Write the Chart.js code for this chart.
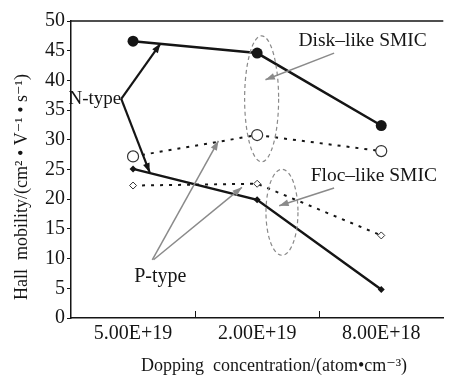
<!DOCTYPE html>
<html>
<head>
<meta charset="utf-8">
<script src="https://cdn.jsdelivr.net/npm/chart.js@4"></script>
<style>
  body { margin: 0; background: #fff; }
  #wrap { width: 450px; height: 383px; }
</style>
</head>
<body>
<div id="wrap"><canvas id="myChart" width="450" height="383"></canvas></div>
<script>
var categories = ["5.00E+19", "2.00E+19", "8.00E+18"];
var diskN = [46.6, 44.6, 32.4];
var diskP = [27.2, 30.8, 28.1];
var flocN = [25.1, 19.9, 4.8];
var flocP = [22.3, 22.6, 13.9];
var yTicks = [0, 5, 10, 15, 20, 25, 30, 35, 40, 45, 50];

var serif = "'Liberation Serif', 'DejaVu Serif', serif";
var ink = "#151515";
var gray = "#8a8a8a";

// annotation stuff, in (category index, value) space
function arrow(ctx, x1, y1, x2, y2, color, size) {
  var a = Math.atan2(y2 - y1, x2 - x1);
  ctx.strokeStyle = color;
  ctx.fillStyle = color;
  ctx.beginPath();
  ctx.moveTo(x1, y1);
  ctx.lineTo(x2, y2);
  ctx.stroke();
  ctx.beginPath();
  ctx.moveTo(x2, y2);
  ctx.lineTo(x2 - size * Math.cos(a - 0.35), y2 - size * Math.sin(a - 0.35));
  ctx.lineTo(x2 - size * Math.cos(a + 0.35), y2 - size * Math.sin(a + 0.35));
  ctx.closePath();
  ctx.fill();
}

var extras = {
  id: "extras",
  afterDraw: function (chart) {
    var ctx = chart.ctx;
    var xs = chart.scales.x;
    var ys = chart.scales.y;
    var area = chart.chartArea;
    function px(i) { return xs.getPixelForValue(0) + i * (xs.getPixelForValue(1) - xs.getPixelForValue(0)); }
    function py(v) { return ys.getPixelForValue(v); }

    ctx.save();
    // top frame line
    ctx.strokeStyle = ink;
    ctx.lineWidth = 1.5;
    ctx.beginPath();
    ctx.moveTo(area.left, area.top);
    ctx.lineTo(area.right, area.top);
    ctx.stroke();

    // x ticks between categories, pointing inward
    ctx.lineWidth = 1;
    for (var k = 0; k < categories.length - 1; k++) {
      var tx = Math.round((xs.getPixelForValue(k) + xs.getPixelForValue(k + 1)) / 2) + 0.5;
      ctx.beginPath();
      ctx.moveTo(tx, area.bottom);
      ctx.lineTo(tx, area.bottom - 7);
      ctx.stroke();
    }

    // N-type label + black arrows
    ctx.font = "19px " + serif;
    ctx.fillStyle = ink;
    ctx.textAlign = "right";
    ctx.textBaseline = "middle";
    ctx.fillText("N-type", px(-0.095), py(36.9));
    ctx.lineWidth = 2.2;
    arrow(ctx, px(-0.095), py(36.9), px(0.221), py(46.2), ink, 10);
    arrow(ctx, px(-0.095), py(36.9), px(0.134), py(24.5), ink, 10);

    // P-type label + gray arrows
    ctx.font = "20px " + serif;
    ctx.textAlign = "center";
    ctx.fillText("P-type", px(0.22), py(7.0));
    ctx.lineWidth = 1.5;
    arrow(ctx, px(0.155), py(9.8), px(0.688), py(29.8), gray, 10);
    arrow(ctx, px(0.165), py(9.8), px(0.877), py(22.0), gray, 10);

    // dashed ellipses
    ctx.setLineDash([4, 3]);
    ctx.strokeStyle = gray;
    ctx.lineWidth = 1.2;
    ctx.beginPath();
    ctx.ellipse(px(1.036), py(36.9), 17, 63, 0, 0, Math.PI * 2);
    ctx.stroke();
    ctx.beginPath();
    ctx.ellipse(px(1.2), py(17.8), 16, 43, 0, 0, Math.PI * 2);
    ctx.stroke();
    ctx.setLineDash([]);

    // SMIC labels
    ctx.fillStyle = ink;
    ctx.font = "19.5px " + serif;
    ctx.fillText("Disk\u2013like SMIC", px(1.85), py(46.6));
    ctx.fillText("Floc\u2013like SMIC", px(1.94), py(23.9));
    ctx.lineWidth = 1.5;
    arrow(ctx, px(1.62), py(44.6), px(1.067), py(40.1), gray, 10);
    arrow(ctx, px(1.62), py(21.9), px(1.178), py(18.9), gray, 10);

    // axis titles
    ctx.fillStyle = ink;
    ctx.font = "18px " + serif;
    ctx.textAlign = "center";
    ctx.textBaseline = "middle";
    ctx.fillText("Dopping  concentration/(atom\u2022cm\u207B\u00B3)", 274, 366);
    ctx.translate(22, 187);
    ctx.rotate(-Math.PI / 2);
    ctx.fillText("Hall  mobility/(cm\u00B2 \u2022 V\u207B\u00B9 \u2022 s\u207B\u00B9)", 0, 0);
    ctx.restore();
  }
};

var ctx = document.getElementById("myChart").getContext("2d");
var myChart = new Chart(ctx, {
  type: "line",
  data: {
    labels: categories,
    datasets: [
      {
        label: "Disk-like N-type",
        data: diskN,
        borderColor: ink,
        borderWidth: 2.5,
        backgroundColor: ink,
        pointStyle: "circle",
        pointRadius: 5.5,
        pointBorderWidth: 0,
        tension: 0,
      },
      {
        label: "Disk-like P-type",
        data: diskP,
        borderColor: ink,
        borderWidth: 2,
        borderDash: [3, 6],
        backgroundColor: "#fff",
        pointBorderColor: "#333",
        pointBorderWidth: 1.2,
        pointStyle: "circle",
        pointRadius: 5.5,
        tension: 0,
      },
      {
        label: "Floc-like N-type",
        data: flocN,
        borderColor: ink,
        borderWidth: 2.5,
        backgroundColor: ink,
        pointStyle: "rectRot",
        pointRadius: 3.5,
        pointBorderWidth: 0,
        tension: 0,
      },
      {
        label: "Floc-like P-type",
        data: flocP,
        borderColor: ink,
        borderWidth: 2,
        borderDash: [3, 6],
        backgroundColor: "#fff",
        pointBorderColor: "#333",
        pointBorderWidth: 1,
        pointStyle: "rectRot",
        pointRadius: 3.5,
        tension: 0,
      },
    ],
  },
  options: {
    responsive: false,
    animation: false,
    layout: { padding: { top: 21, right: 0, left: 0, bottom: 0 } },
    plugins: {
      legend: { display: false },
      tooltip: { enabled: false },
    },
    scales: {
      x: {
        offset: true,
        grid: { display: false, drawTicks: false },
        border: { display: true, color: ink, width: 1.5 },
        ticks: {
          color: ink,
          padding: 4,
          font: { family: serif, size: 20 },
          maxRotation: 0,
        },
        afterFit: function (scale) { scale.height = 65; },
      },
      y: {
        min: 0,
        max: 50,
        afterBuildTicks: function (scale) {
          scale.ticks = yTicks.map(function (v) { return { value: v }; });
        },
        grid: { drawOnChartArea: false, drawTicks: true, tickLength: 4, color: ink },
        border: { display: true, color: ink, width: 1.5 },
        ticks: {
          color: ink,
          padding: 2,
          font: { family: serif, size: 20 },
        },
        afterFit: function (scale) { scale.width = 71; },
      },
    },
  },
  plugins: [extras],
});
</script>
</body>
</html>
